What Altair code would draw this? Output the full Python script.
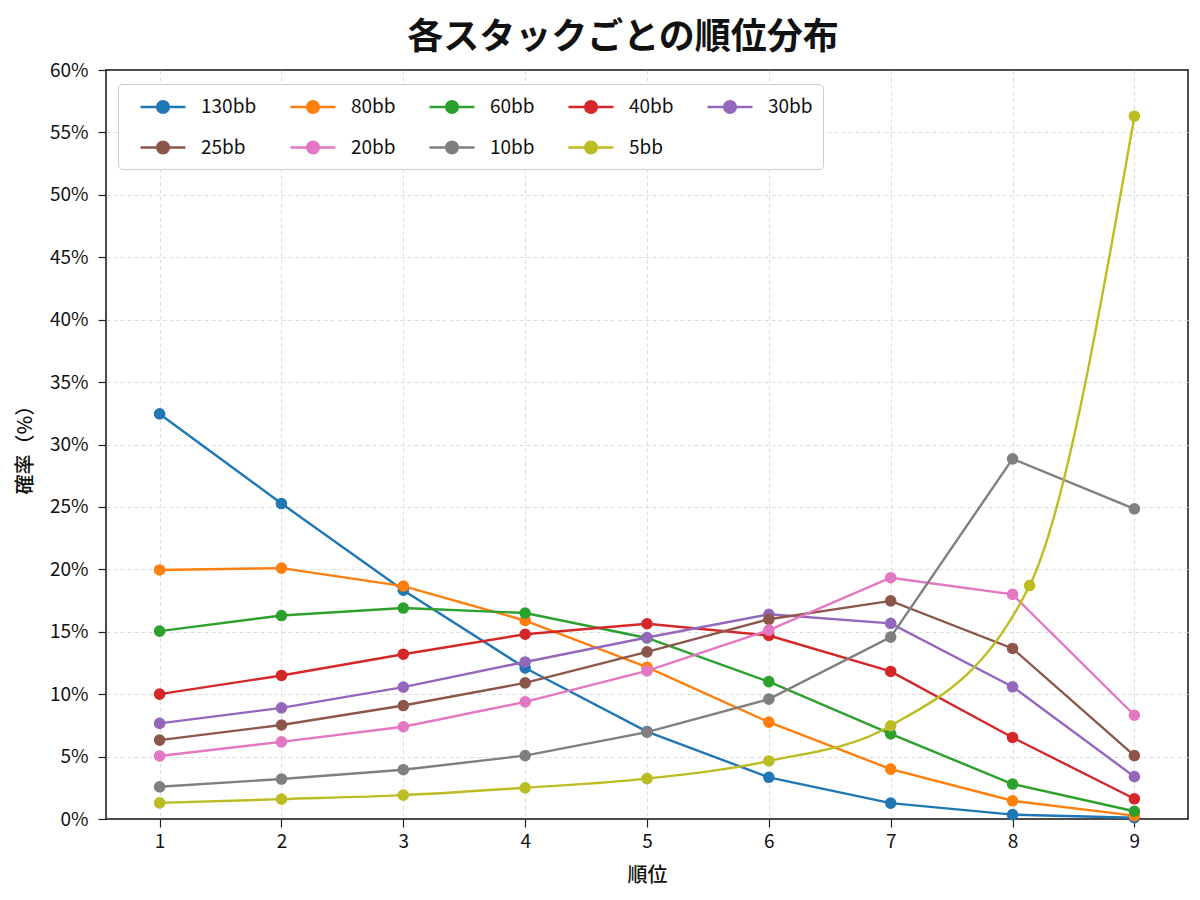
import altair as alt
import pandas as pd

# ---- data ----
stacks = ["130bb", "80bb", "60bb", "40bb", "30bb", "25bb", "20bb", "10bb", "5bb"]
colors = ["#1f77b4", "#ff7f0e", "#2ca02c", "#d62728", "#9467bd",
          "#8c564b", "#e377c2", "#7f7f7f", "#bcbd22"]
ranks = [1, 2, 3, 4, 5, 6, 7, 8, 9]
ranks_5bb = [1, 2, 3, 4, 5, 6, 7, 8.14, 9]

v_130 = [32.45, 25.27, 18.33, 12.1, 7.0, 3.34, 1.27, 0.35, 0.1]
v_80 = [19.95, 20.1, 18.66, 15.9, 12.16, 7.76, 4.0, 1.46, 0.27]
v_60 = [15.05, 16.3, 16.9, 16.5, 14.5, 11.0, 6.82, 2.8, 0.62]
v_40 = [10.0, 11.5, 13.2, 14.8, 15.64, 14.7, 11.82, 6.53, 1.62]
v_30 = [7.66, 8.9, 10.56, 12.58, 14.54, 16.4, 15.67, 10.59, 3.39]
v_25 = [6.32, 7.53, 9.09, 10.9, 13.39, 16.0, 17.47, 13.66, 5.08]
v_20 = [5.05, 6.18, 7.39, 9.38, 11.86, 15.13, 19.33, 17.99, 8.31]
v_10 = [2.58, 3.2, 3.95, 5.08, 6.96, 9.6, 14.57, 28.85, 24.85]
v_5 = [1.29, 1.59, 1.91, 2.5, 3.23, 4.65, 7.47, 18.7, 56.3]

y_ticks = [0, 5, 10, 15, 20, 25, 30, 35, 40, 45, 50, 55, 60]

series = [v_130, v_80, v_60, v_40, v_30, v_25, v_20, v_10, v_5]
rows = []
for name, vals in zip(stacks, series):
    xs = ranks_5bb if name == "5bb" else ranks
    for x, v in zip(xs, vals):
        rows.append({"rank": x, "value": v, "stack": name})
df = pd.DataFrame(rows)

FONT = "Noto Sans CJK JP"

sym = "M0,0L4,0M2.52,0A0.52,0.52,0,1,1,1.48,0A0.52,0.52,0,1,1,2.52,0Z"

legend = alt.Legend(
    title=None, orient="none", legendX=12, legendY=14, columns=5,
    direction="horizontal",
    symbolType=sym, symbolSize=506, symbolStrokeWidth=2.4,
    labelFont=FONT, labelFontSize=19, labelColor="#111111",
    labelOffset=48, columnPadding=21, rowPadding=17, padding=10,
    strokeColor="#cccccc", fillColor="#ffffff", cornerRadius=4,
)

color = alt.Color("stack:N", scale=alt.Scale(domain=stacks, range=colors),
                  legend=legend, sort=stacks)

x = alt.X("rank:Q", scale=alt.Scale(domain=[0.56, 9.44], nice=False, zero=False),
          axis=alt.Axis(values=ranks, format="d", title="順位"))
y = alt.Y("value:Q", scale=alt.Scale(domain=[0, 60], nice=False),
          axis=alt.Axis(values=y_ticks, labelExpr="datum.value + '%'", title="確率（%）",
                        gridOpacity={"condition": {"test": "datum.value >= 60 || datum.value <= 0",
                                                   "value": 0},
                                     "value": 1}))

base = alt.Chart(df)

lines = base.transform_filter(alt.datum.stack != "5bb").mark_line(strokeWidth=2.4).encode(
    x=x, y=y, color=color, detail="stack:N")
line5 = base.transform_filter(alt.datum.stack == "5bb").mark_line(
    strokeWidth=2.4, interpolate="monotone").encode(x=x, y=y, color=color)
points = base.mark_point(filled=True, size=135, opacity=1).encode(
    x=x, y=y, color=color)

chart = alt.layer(lines, line5, points).properties(
    width=1082, height=749,
    title=alt.TitleParams("各スタックごとの順位分布", font=FONT, fontSize=36,
                          fontWeight="bold", color="#111111", offset=4, dx=-24),
    padding={"left": 98, "top": 62, "right": 4, "bottom": 70},
    autosize="none",
).configure_view(
    stroke="#111111", strokeWidth=1.5
).configure_axis(
    labelFont=FONT, titleFont=FONT, labelFontSize=19, titleFontSize=20,
    titleFontWeight=500, labelColor="#111111", titleColor="#111111",
    domain=False, tickColor="#222222", tickSize=8, tickWidth=1.2,
    grid=True, gridColor="#d9d9d9", gridDash=[4, 3], gridWidth=0.9,
).configure_axisX(
    labelPadding=5, titlePadding=14
).configure_axisY(
    labelPadding=10, titlePadding=14
)

chart.save("out.html", embed_options={"renderer": "svg", "actions": False})
